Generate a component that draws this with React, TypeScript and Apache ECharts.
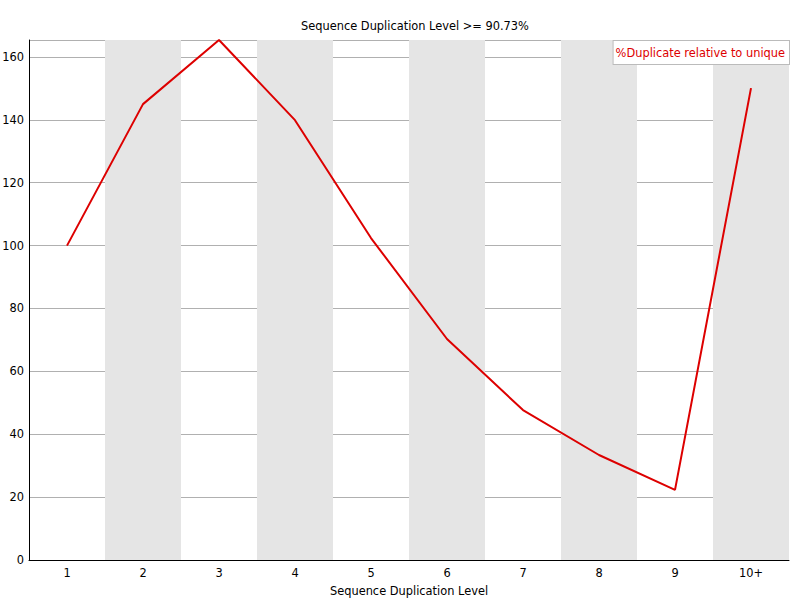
import React, { useEffect, useRef } from "react";
import * as echarts from "echarts";

const categories = ["1", "2", "3", "4", "5", "6", "7", "8", "9", "10+"];
const duplicateValues = [100.0, 145.0, 165.4, 139.9, 102.4, 70.3, 47.7, 33.4, 22.3, 150.1];
const seriesName = "%Duplicate relative to unique";
const titleText = "Sequence Duplication Level >= 90.73%";
const xAxisName = "Sequence Duplication Level";

export default function App() {
  const ref = useRef<HTMLDivElement>(null);
  useEffect(() => {
    if (!ref.current) return;
    const chart = echarts.init(ref.current, null, { renderer: "svg" });
    const font = "DejaVu Sans";
    const fs = 11.4;
    chart.setOption({
      animation: false,
      backgroundColor: "#ffffff",
      textStyle: { fontFamily: font },
      title: {
        text: titleText,
        left: 410,
        textAlign: "center",
        top: 15,
        textStyle: { fontSize: fs, fontWeight: "normal", color: "#000", fontFamily: font },
      },
      legend: {
        data: [seriesName],
        right: 10,
        top: 40,
        itemWidth: 0,
        itemHeight: 0,
        icon: "rect",
        borderWidth: 0,
        padding: 0,
        textStyle: {
          color: "#dd0000",
          fontSize: fs,
          fontFamily: font,
          borderColor: "#bbbbbb",
          borderWidth: 1,
          backgroundColor: "#ffffff",
          padding: [8, 4, 4, 2],
        },
      },
      grid: { left: 29, right: 11, top: 40, bottom: 40, containLabel: false, outerBoundsMode: "none" },
      xAxis: {
        type: "category",
        data: categories,
        boundaryGap: true,
        name: xAxisName,
        nameLocation: "middle",
        nameGap: 25,
        nameTextStyle: { fontSize: fs, color: "#000", fontFamily: font },
        axisLine: { lineStyle: { color: "#000", width: 1 } },
        axisTick: { show: false },
        axisLabel: { fontSize: fs, color: "#000", margin: 7, fontFamily: font },
        splitLine: { show: false },
        splitArea: {
          show: true,
          areaStyle: { color: ["rgba(255,255,255,0)", "#e5e5e5"] },
        },
        z: 3,
      },
      yAxis: {
        type: "value",
        min: 0,
        max: 165.4,
        interval: 20,
        axisLine: { show: true, lineStyle: { color: "#000", width: 1 } },
        axisTick: { show: false },
        axisLabel: { fontSize: fs, color: "#000", margin: 5, showMaxLabel: false, fontFamily: font },
        splitLine: { show: true, lineStyle: { color: "#b0b0b0", width: 1 } },
      },
      series: [
        {
          name: seriesName,
          type: "line",
          data: duplicateValues,
          symbol: "none",
          lineStyle: { color: "#dd0000", width: 2 },
          itemStyle: { color: "#dd0000" },
          z: 5,
        },
      ],
    });
    return () => chart.dispose();
  }, []);
  return (
    <div
      ref={ref}
      style={{ position: "absolute", left: 0, top: 0, width: 800, height: 600 }}
    />
  );
}
